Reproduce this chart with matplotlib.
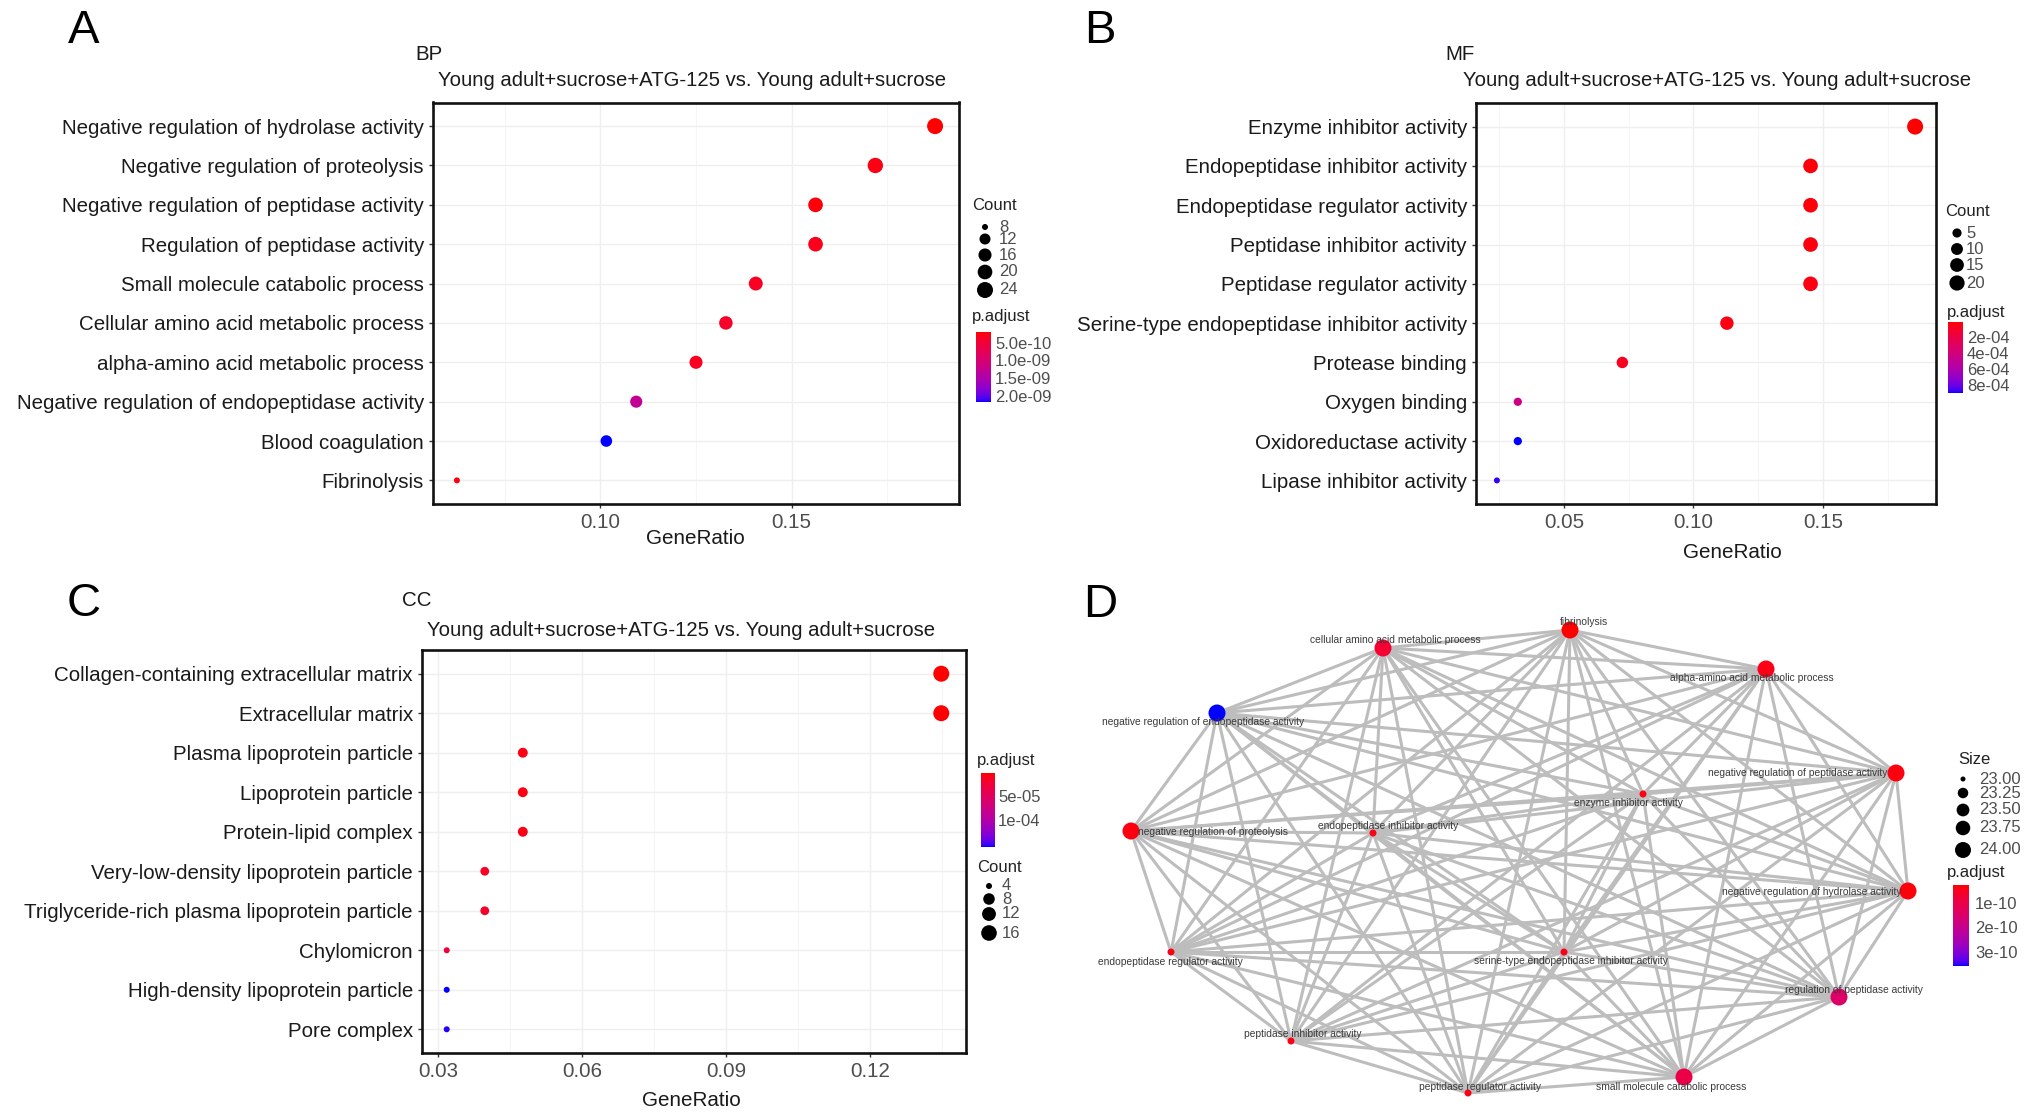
import itertools
import numpy as np
import matplotlib
matplotlib.use("Agg")
import matplotlib.pyplot as plt
from matplotlib.collections import LineCollection

plt.rcParams['font.family'] = ['Liberation Sans', 'DejaVu Sans']

W, H = 2032, 1119
subtitle = "Young adult+sucrose+ATG-125 vs. Young adult+sucrose"

# ---------------- data ----------------
bp_terms = ["Negative regulation of hydrolase activity",
            "Negative regulation of proteolysis",
            "Negative regulation of peptidase activity",
            "Regulation of peptidase activity",
            "Small molecule catabolic process",
            "Cellular amino acid metabolic process",
            "alpha-amino acid metabolic process",
            "Negative regulation of endopeptidase activity",
            "Blood coagulation",
            "Fibrinolysis"]
bp_count = [24, 22, 20, 20, 18, 17, 16, 14, 13, 8]
bp_total = 128
bp_padj = [1.6e-10, 2.3e-10, 1.9e-10, 2.6e-10, 3.1e-10, 3.5e-10, 2.9e-10,
           1.25e-9, 2.14e-9, 2.0e-10]

mf_terms = ["Enzyme inhibitor activity",
            "Endopeptidase inhibitor activity",
            "Endopeptidase regulator activity",
            "Peptidase inhibitor activity",
            "Peptidase regulator activity",
            "Serine-type endopeptidase inhibitor activity",
            "Protease binding",
            "Oxygen binding",
            "Oxidoreductase activity",
            "Lipase inhibitor activity"]
mf_count = [23, 18, 18, 18, 18, 14, 9, 4, 4, 3]
mf_total = 124
mf_padj = [2.0e-6, 1.5e-5, 1.8e-5, 2.2e-5, 2.6e-5, 3.0e-5, 6.0e-5,
           4.3e-4, 8.8e-4, 8.6e-4]

cc_terms = ["Collagen-containing extracellular matrix",
            "Extracellular matrix",
            "Plasma lipoprotein particle",
            "Lipoprotein particle",
            "Protein-lipid complex",
            "Very-low-density lipoprotein particle",
            "Triglyceride-rich plasma lipoprotein particle",
            "Chylomicron",
            "High-density lipoprotein particle",
            "Pore complex"]
cc_count = [17, 17, 6, 6, 6, 5, 5, 4, 4, 4]
cc_total = 126
cc_padj = [1e-7, 2e-7, 5e-6, 5e-6, 6e-6, 1.2e-5, 1.4e-5, 2.5e-5, 1.52e-4, 1.50e-4]

# network (panel D): layout coordinates
net_terms = ["fibrinolysis",
             "cellular amino acid metabolic process",
             "alpha-amino acid metabolic process",
             "negative regulation of endopeptidase activity",
             "negative regulation of peptidase activity",
             "enzyme inhibitor activity",
             "endopeptidase inhibitor activity",
             "negative regulation of proteolysis",
             "negative regulation of hydrolase activity",
             "endopeptidase regulator activity",
             "serine-type endopeptidase inhibitor activity",
             "regulation of peptidase activity",
             "peptidase inhibitor activity",
             "small molecule catabolic process",
             "peptidase regulator activity"]
net_x = [0.30, -1.57, 2.26, -3.23, 3.56, 1.03, -1.67, -4.09, 3.68, -3.69,
         0.24, 2.99, -2.49, 1.44, -0.72]
net_y = [2.30, 2.12, 1.91, 1.47, 0.87, 0.66, 0.27, 0.29, -0.31, -0.92,
         -0.92, -1.37, -1.81, -2.17, -2.33]
net_size = [24, 24, 24, 24, 24, 23, 23, 24, 24, 23, 23, 24, 23, 24, 23]
net_padj = [1.7e-11, 6e-11, 3e-11, 3.54e-10, 2.5e-11, 3e-11, 3e-11, 2.5e-11,
            2.2e-11, 3e-11, 3.5e-11, 1.35e-10, 3e-11, 9e-11, 3e-11]
# label offsets (pixels) like ggrepel put them
net_lab_dx = [14, 12, -14, -14, -98, -15, 15, 82, -96, -1, 7, 15, 12, -13, 12]
net_lab_dy = [-8, -8, 9, 9, 0, 9, -7, 1, 1, 10, 9, -7, -7, 10, -6]


# ---------------- colours (ggplot red->blue gradient in Lab) ----------------
_M = np.array([[0.4124564, 0.3575761, 0.1804375],
               [0.2126729, 0.7151522, 0.0721750],
               [0.0193339, 0.1191920, 0.9503041]])
_WHITE = np.array([0.95047, 1.0, 1.08883])


def rgb_to_lab(rgb):
    rgb = np.asarray(rgb, float)
    lin = np.where(rgb <= 0.04045, rgb / 12.92, ((rgb + 0.055) / 1.055) ** 2.4)
    xyz = lin @ _M.T / _WHITE
    d = 6 / 29
    f = np.where(xyz > d ** 3, np.cbrt(xyz), xyz / (3 * d * d) + 4 / 29)
    return np.stack([116 * f[..., 1] - 16,
                     500 * (f[..., 0] - f[..., 1]),
                     200 * (f[..., 1] - f[..., 2])], -1)


def lab_to_rgb(lab):
    L, a, b = lab[..., 0], lab[..., 1], lab[..., 2]
    fy = (L + 16) / 116
    f = np.stack([fy + a / 500, fy, fy - b / 200], -1)
    d = 6 / 29
    xyz = np.where(f > d, f ** 3, 3 * d * d * (f - 4 / 29)) * _WHITE
    lin = xyz @ np.linalg.inv(_M).T
    lin = np.clip(lin, 0, 1)
    rgb = np.where(lin <= 0.0031308, 12.92 * lin, 1.055 * lin ** (1 / 2.4) - 0.055)
    return np.clip(rgb, 0, 1)


LAB_LO = rgb_to_lab([1.0, 0.0, 0.0])
LAB_HI = rgb_to_lab([0.0, 0.0, 1.0])


def grad(t):
    t = np.clip(np.asarray(t, float), 0, 1)[..., None]
    return lab_to_rgb(LAB_LO * (1 - t) + LAB_HI * t)


def diam(v, lim, dr):
    v = np.asarray(v, float)
    t = np.clip((v - lim[0]) / (lim[1] - lim[0]), 0, 1)
    return dr[0] + (dr[1] - dr[0]) * np.sqrt(t)


def s_of(d):
    return (np.asarray(d) * 0.72) ** 2


DOT_RANGE = (6, 16)

# ---------------- figure ----------------
fig = plt.figure(figsize=(W / 100, H / 100), dpi=100)
ov = fig.add_axes([0, 0, 1, 1])
ov.set_xlim(0, W)
ov.set_ylim(H, 0)
ov.axis('off')


def px_axes(x0, y0, x1, y1):
    return fig.add_axes([x0 / W, 1 - y1 / H, (x1 - x0) / W, (y1 - y0) / H])


def colorbar(x0, y0, x1, y1, vmin, vmax, ticks, labels, lx):
    t = np.linspace(0, 1, 200)[:, None]
    ov.imshow(grad(t), extent=(x0, x1, y1, y0), aspect='auto', origin='upper',
              interpolation='bilinear', zorder=2)
    for v, lab in zip(ticks, labels):
        yy = y0 + (v - vmin) / (vmax - vmin) * (y1 - y0)
        ov.text(lx, yy, lab, fontsize=12, color='#4D4D4D', va='center', ha='left')


def size_legend(title, tx, ty, dx, rows, vals, lim, dr, lx, fmt):
    ov.text(tx, ty, title, fontsize=12, color='#222222', va='center', ha='left')
    ov.scatter([dx] * len(vals), rows, s=s_of(diam(vals, lim, dr)), c='black',
               linewidths=0, zorder=3)
    for yy, v in zip(rows, vals):
        ov.text(lx, yy, fmt % v, fontsize=12, color='#4D4D4D', va='center', ha='left')


def dot_panel(box, terms, count, total, padj, xticks, xfmt, dr):
    ax = px_axes(*box)
    n = len(terms)
    y = np.arange(n, 0, -1)
    ratio = np.array(count) / total
    padj = np.array(padj)
    col = grad((padj - padj.min()) / (padj.max() - padj.min()))
    lim = (min(count), max(count))
    ax.scatter(ratio, y, s=s_of(diam(count, lim, dr)), c=col, linewidths=0, zorder=3)
    lo, hi = ratio.min(), ratio.max()
    pad = 0.05 * (hi - lo)
    ax.set_xlim(lo - pad, hi + pad)
    ax.set_ylim(0.4, n + 0.6)
    ax.set_yticks(y)
    ax.set_yticklabels(terms, fontsize=14.8, color='#1A1A1A')
    ax.set_xticks(xticks)
    ax.set_xticklabels([xfmt % v for v in xticks], fontsize=14.8, color='#4D4D4D')
    step = xticks[1] - xticks[0]
    minors = np.arange(xticks[0] - step / 2, hi + pad, step)
    for m in minors:
        if lo - pad < m < hi + pad:
            ax.axvline(m, color='#F6F6F6', lw=0.8, zorder=0)
    for m in xticks:
        ax.axvline(m, color='#EFEFEF', lw=1.0, zorder=0)
    for yy in y:
        ax.axhline(yy, color='#EFEFEF', lw=1.0, zorder=0)
    for sp in ax.spines.values():
        sp.set_linewidth(1.9)
        sp.set_color('#111111')
    ax.tick_params(axis='both', length=3, width=1.0, color='#333333', pad=3.5)
    return ax


# panel A
dot_panel((433, 102.5, 959, 504), bp_terms, bp_count, bp_total, bp_padj,
          [0.10, 0.15], '%.2f', DOT_RANGE)
# panel B
dot_panel((1476, 103, 1936, 504), mf_terms, mf_count, mf_total, mf_padj,
          [0.05, 0.10, 0.15], '%.2f', DOT_RANGE)
# panel C
dot_panel((422, 650, 966, 1053), cc_terms, cc_count, cc_total, cc_padj,
          [0.03, 0.06, 0.09, 0.12], '%.2f', DOT_RANGE)

# titles and labels
for lx, ly, letter in [(84, 31, 'A'), (1100, 31, 'B'), (84, 604, 'C'), (1100, 605, 'D')]:
    ov.text(lx, ly, letter, fontsize=34, ha='center', va='center', color='black')
for tx, ty, t in [(415, 54, 'BP'), (1445, 54, 'MF'), (402, 601, 'CC')]:
    ov.text(tx, ty, t, fontsize=14.8, ha='left', va='center', color='#1A1A1A')
for cx, cy in [(692, 81), (1717, 81), (681, 630)]:
    ov.text(cx, cy, subtitle, fontsize=14.6, ha='center', va='center', color='#1A1A1A')
for cx, cy in [(695, 539), (1732, 553), (691, 1101)]:
    ov.text(cx, cy, 'GeneRatio', fontsize=14.9, ha='center', va='center', color='#1A1A1A')

# legends A
size_legend('Count', 972, 205, 985, [227, 239, 255, 272, 290], [8, 12, 16, 20, 24],
            (min(bp_count), max(bp_count)), DOT_RANGE, 999, '%d')
ov.text(972, 317, 'p.adjust', fontsize=12, color='#222222', va='center')
colorbar(976, 332, 991, 402, min(bp_padj), max(bp_padj),
         [5e-10, 1e-9, 1.5e-9, 2e-9], ['5.0e-10', '1.0e-09', '1.5e-09', '2.0e-09'], 995)

# legends B
size_legend('Count', 1945, 212, 1957, [233, 249, 265, 283], [5, 10, 15, 20],
            (min(mf_count), max(mf_count)), DOT_RANGE, 1966, '%d')
ov.text(1947, 313, 'p.adjust', fontsize=12, color='#222222', va='center')
colorbar(1948, 322, 1963, 393, min(mf_padj), max(mf_padj),
         [2e-4, 4e-4, 6e-4, 8e-4], ['2e-04', '4e-04', '6e-04', '8e-04'], 1967)

# legends C
ov.text(977, 760, 'p.adjust', fontsize=12, color='#222222', va='center')
colorbar(981, 773, 995, 847, min(cc_padj), max(cc_padj),
         [5e-5, 1e-4], ['5e-05', '1e-04'], 998)
size_legend('Count', 977, 867, 989, [886, 899, 914, 933], [4, 8, 12, 16],
            (min(cc_count), max(cc_count)), DOT_RANGE, 1002, '%d')

# panel D network
axd = px_axes(1080, 600, 1940, 1110)
axd.set_xlim(-4.6, 4.0)
axd.set_ylim(-2.5, 2.6)
axd.axis('off')
pts = np.column_stack([net_x, net_y])
segs = [[pts[i], pts[j]] for i, j in itertools.combinations(range(len(pts)), 2)]
axd.add_collection(LineCollection(segs, colors='#BDBDBD', linewidths=2.2, zorder=1))
npadj = np.array(net_padj)
ncol = grad((npadj - npadj.min()) / (npadj.max() - npadj.min()))
axd.scatter(net_x, net_y, s=s_of(diam(net_size, (23, 24), (7, 17))), c=ncol,
            linewidths=0, zorder=3)
for x, y, t, dx, dy in zip(net_x, net_y, net_terms, net_lab_dx, net_lab_dy):
    axd.annotate(t, (x, y), xytext=(dx * 0.72, -dy * 0.72), textcoords='offset points',
                 ha='center', va='center', fontsize=7.4, color='#3A3A3A', zorder=4)

size_legend('Size', 1958, 760, 1963, [779, 793, 810, 828, 850],
            [23.0, 23.25, 23.5, 23.75, 24.0], (23, 24), (5, 16), 1979, '%.2f')
ov.text(1947, 873, 'p.adjust', fontsize=12, color='#222222', va='center')
colorbar(1953, 885, 1969, 966, npadj.min(), npadj.max(),
         [1e-10, 2e-10, 3e-10], ['1e-10', '2e-10', '3e-10'], 1975)

ov.set_xlim(0, W)
ov.set_ylim(H, 0)
fig.savefig('out.png', dpi=100)
